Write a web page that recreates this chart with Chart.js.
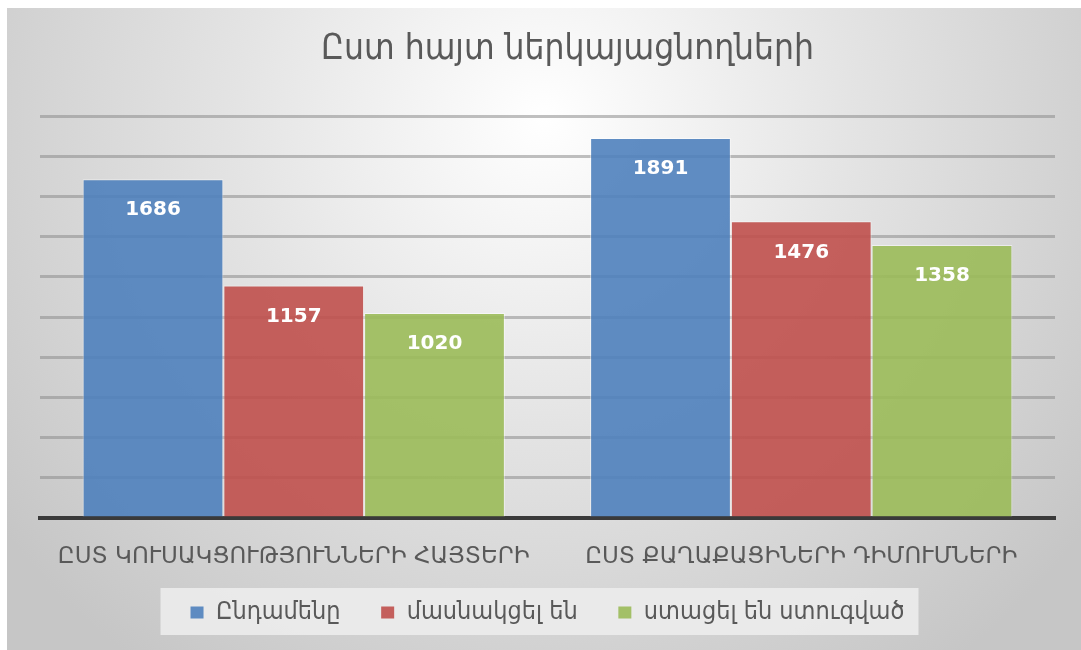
<!DOCTYPE html>
<html lang="hy">
<head>
    <meta charset="UTF-8">
    <title>Ըստ հայտ ներկայացնողների</title>
    <script src="https://cdn.jsdelivr.net/npm/chart.js"></script>
    <style>
        body {
            margin: 0;
            background: #ffffff;
        }

        .chart-box {
            position: absolute;
            left: 7px;
            top: 8px;
            width: 1074px;
            height: 642px;
        }
    </style>
</head>
<body>
    <div class="chart-box">
        <canvas id="chart"></canvas>
    </div>

    <script>
        // Data
        const chartTitle = 'Ըստ հայտ ներկայացնողների';
        const categories = ['ԸՍՏ ԿՈՒՍԱԿՑՈՒԹՅՈՒՆՆԵՐԻ ՀԱՅՏԵՐԻ', 'ԸՍՏ ՔԱՂԱՔԱՑԻՆԵՐԻ ԴԻՄՈՒՄՆԵՐԻ'];
        const seriesNames = ['Ընդամենը', 'մասնակցել են', 'ստացել են ստուգված'];
        const totalValues = [1686, 1891];
        const participatedValues = [1157, 1476];
        const receivedValues = [1020, 1358];
        const axisMax = 2000;
        const axisStep = 200;

        const condensed = "'DejaVu Sans Condensed', 'DejaVu Sans', sans-serif";
        const regular = "'DejaVu Sans', sans-serif";
        const colors = ['rgba(79, 129, 189, 0.9)', 'rgba(192, 80, 77, 0.9)', 'rgba(155, 187, 89, 0.9)'];

        // background gradient + legend panel
        const backgroundPlugin = {
            id: 'background',
            beforeDraw(chart) {
                const ctx = chart.ctx;
                const w = chart.width, h = chart.height;
                ctx.save();
                const g = ctx.createRadialGradient(w / 2, 110, 0, w / 2, 110, 680);
                g.addColorStop(0, '#ffffff');
                g.addColorStop(0.45, '#e4e4e4');
                g.addColorStop(1, '#c6c6c6');
                ctx.fillStyle = g;
                ctx.fillRect(0, 0, w, h);

                const boxes = chart.legend.legendHitBoxes;
                if (boxes && boxes.length) {
                    const last = boxes[boxes.length - 1];
                    const left = boxes[0].left - 30;
                    const right = last.left + last.width + 14;
                    ctx.fillStyle = 'rgba(236, 236, 236, 0.9)';
                    ctx.fillRect(left, chart.legend.top, right - left, chart.legend.height);
                }
                ctx.restore();
            }
        };

        // values written inside the top of each bar
        const valueLabels = {
            id: 'valueLabels',
            afterDatasetsDraw(chart) {
                const ctx = chart.ctx;
                ctx.save();
                ctx.font = 'bold 20px ' + regular;
                ctx.fillStyle = '#ffffff';
                ctx.textAlign = 'center';
                ctx.textBaseline = 'middle';
                chart.data.datasets.forEach((ds, i) => {
                    chart.getDatasetMeta(i).data.forEach((bar, j) => {
                        ctx.fillText(ds.data[j], bar.x, bar.y + 31);
                    });
                });
                ctx.restore();
            }
        };

        const ctx = document.getElementById('chart').getContext('2d');
        new Chart(ctx, {
            type: 'bar',
            data: {
                labels: categories,
                datasets: [totalValues, participatedValues, receivedValues].map((values, i) => ({
                    label: seriesNames[i],
                    data: values,
                    backgroundColor: colors[i],
                    borderColor: 'rgba(255, 255, 255, 0.5)',
                    borderWidth: 1,
                    categoryPercentage: 0.832,
                    barPercentage: 1.0
                }))
            },
            options: {
                responsive: true,
                maintainAspectRatio: false,
                animation: false,
                layout: {
                    padding: { left: 33, right: 26, top: 0, bottom: 15 }
                },
                plugins: {
                    title: {
                        display: true,
                        // leading spaces nudge the title right, as in the original
                        text: '    ' + chartTitle,
                        color: '#595959',
                        font: { family: condensed, size: 35, weight: 'normal' },
                        padding: { top: 21, bottom: 45 }
                    },
                    legend: {
                        position: 'bottom',
                        labels: {
                            color: '#595959',
                            font: { family: condensed, size: 25 },
                            boxWidth: 13,
                            boxHeight: 12,
                            padding: 12,
                            // wider gaps between items, like the original
                            generateLabels(chart) {
                                const items = Chart.defaults.plugins.legend.labels.generateLabels(chart);
                                items.forEach((it, i) => {
                                    it.lineWidth = 0;
                                    if (i < items.length - 1) it.text += '    ';
                                });
                                return items;
                            }
                        }
                    },
                    tooltip: { enabled: false }
                },
                scales: {
                    x: {
                        grid: { display: false },
                        border: { display: true, color: '#3a3a3a', width: 4 },
                        ticks: {
                            color: '#595959',
                            font: { family: regular, size: 23, lineHeight: 1.3 },
                            padding: 16,
                            maxRotation: 0
                        }
                    },
                    y: {
                        min: 0,
                        max: axisMax,
                        border: { display: false },
                        grid: {
                            color: 'rgba(140, 140, 140, 0.55)',
                            lineWidth: 3,
                            drawTicks: false
                        },
                        ticks: { display: false, stepSize: axisStep }
                    }
                }
            },
            plugins: [backgroundPlugin, valueLabels]
        });
    </script>
</body>
</html>
